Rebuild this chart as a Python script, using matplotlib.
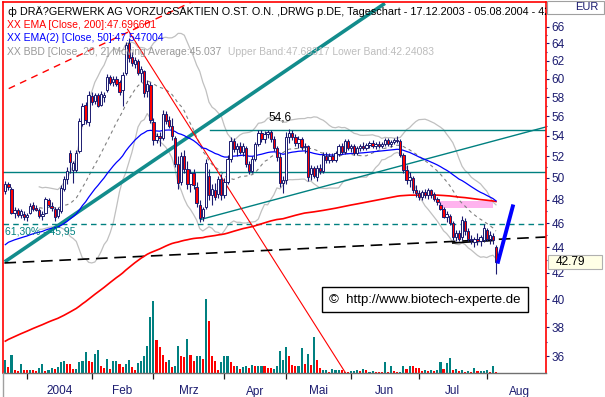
import numpy as np
import pandas as pd
import matplotlib
matplotlib.use("Agg")
import matplotlib.pyplot as plt
from matplotlib.patches import Rectangle
from matplotlib.lines import Line2D
from matplotlib.ticker import FixedLocator, NullFormatter, FixedFormatter

plt.rcParams['font.family'] = ['Liberation Sans', 'DejaVu Sans']

# --- daily candles 17.12.2003 - 05.08.2004 (trading day index 0..159)
opens = [48.8, 49.4, 49.0, 46.9, 47.1, 46.7, 46.8, 46.5, 46.9, 47.6, 47.3, 47.1, 46.6, 46.9, 48.0, 47.5, 47.2, 46.6, 47.0, 49.0,
         49.9, 52.3, 50.7, 50.7, 52.5, 55.2, 57.2, 55.4, 58.1, 57.6, 58.2, 57.2, 58.0, 58.7, 60.2, 59.6, 60.0, 59.6, 58.8, 60.6,
         64.0, 62.4, 61.6, 62.0, 60.6, 60.8, 58.6, 59.3, 55.4, 53.6, 54.0, 53.8, 56.2, 55.6, 55.0, 53.8, 51.3, 49.6, 52.0, 50.8,
         49.4, 50.4, 49.2, 47.6, 46.5, 47.4, 50.2, 48.4, 48.9, 48.5, 49.9, 48.4, 49.6, 51.8, 53.5, 52.7, 53.0, 52.4, 52.8, 51.3,
         50.6, 51.8, 53.2, 54.3, 53.7, 54.2, 54.4, 53.7, 52.8, 51.9, 49.5, 49.8, 53.9, 54.3, 53.9, 53.3, 53.7, 52.9, 53.0, 50.3,
         50.9, 50.1, 50.9, 50.6, 52.0, 51.7, 52.0, 51.7, 52.2, 53.0, 52.4, 53.5, 52.8, 53.0, 52.3, 52.8, 53.0, 52.8, 53.1, 53.3,
         53.0, 53.2, 53.0, 53.2, 53.6, 53.2, 53.4, 53.6, 53.5, 52.1, 50.7, 49.8, 50.0, 48.9, 48.6, 48.3, 48.7, 48.4, 48.9, 48.5,
         48.1, 47.6, 47.2, 46.5, 46.6, 46.0, 44.8, 45.2, 44.8, 46.2, 45.3, 44.7, 44.4, 44.7, 44.5, 44.6, 45.4, 44.7, 44.9, 44.0]
highs = [49.7, 49.6, 49.2, 47.4, 47.3, 47.2, 47.0, 46.9, 47.7, 47.8, 47.6, 47.3, 47.0, 48.3, 48.2, 47.8, 47.4, 47.4, 49.3, 50.2,
         51.0, 52.6, 51.6, 52.6, 55.8, 57.4, 57.5, 58.6, 58.5, 58.4, 58.4, 58.6, 58.5, 60.5, 60.4, 60.3, 60.3, 59.8, 60.7, 64.2,
         64.6, 63.0, 62.4, 62.2, 61.4, 61.0, 59.8, 59.6, 55.8, 54.3, 54.4, 56.6, 56.5, 56.0, 55.8, 54.0, 52.0, 52.4, 52.6, 51.6,
         50.8, 50.8, 49.6, 48.0, 47.4, 51.8, 50.8, 49.4, 49.5, 50.2, 50.3, 50.0, 52.1, 53.9, 53.8, 53.3, 53.4, 53.3, 53.0, 51.6,
         52.0, 53.4, 54.6, 54.6, 54.5, 54.6, 54.6, 54.0, 53.0, 52.3, 50.2, 54.4, 54.7, 54.6, 54.2, 54.0, 53.9, 53.3, 53.1, 51.2,
         51.1, 51.2, 51.3, 52.4, 52.4, 52.3, 52.3, 52.5, 53.2, 53.3, 53.7, 53.7, 53.2, 53.2, 53.0, 53.2, 53.4, 53.3, 53.5, 53.6,
         53.4, 53.5, 53.4, 53.8, 53.8, 53.6, 53.8, 54.0, 53.7, 52.3, 51.2, 50.5, 50.2, 49.3, 48.9, 48.9, 49.0, 49.1, 49.0, 48.7,
         48.3, 47.8, 47.4, 47.0, 46.8, 46.2, 45.4, 45.4, 46.6, 46.4, 45.6, 45.0, 44.8, 45.2, 45.0, 45.9, 45.6, 45.3, 45.2, 44.2]
lows = [48.5, 48.9, 46.8, 46.4, 46.5, 46.4, 46.3, 46.2, 46.8, 47.0, 47.0, 46.4, 46.3, 46.8, 47.4, 47.0, 46.2, 46.4, 46.9, 48.8,
        49.4, 50.4, 49.5, 50.5, 52.3, 55.0, 55.2, 55.0, 57.2, 57.3, 56.9, 57.0, 57.5, 58.5, 59.3, 59.2, 59.2, 58.2, 57.0, 60.4,
        61.8, 61.4, 61.2, 60.4, 59.6, 58.0, 58.0, 55.3, 53.1, 53.3, 53.0, 53.6, 55.2, 54.8, 53.6, 51.0, 49.0, 49.3, 50.4, 49.0,
        48.7, 49.0, 47.4, 46.1, 46.2, 47.2, 48.0, 47.6, 48.0, 48.2, 48.0, 48.2, 49.4, 51.5, 52.4, 52.0, 52.2, 52.0, 51.0, 50.3,
        50.4, 51.6, 53.0, 53.4, 53.3, 53.8, 53.4, 52.5, 51.6, 49.2, 48.6, 49.4, 53.3, 53.6, 53.0, 52.8, 52.6, 52.3, 49.7, 49.8,
        50.0, 49.7, 50.3, 50.4, 51.4, 51.4, 51.5, 51.5, 52.0, 52.2, 52.2, 52.6, 52.4, 52.1, 52.1, 52.5, 52.6, 52.6, 52.8, 52.8,
        52.7, 52.8, 52.8, 53.0, 53.0, 52.9, 53.2, 53.3, 51.9, 50.4, 49.4, 49.2, 48.6, 48.3, 48.0, 48.0, 48.2, 48.1, 48.2, 47.9,
        47.6, 47.1, 46.4, 46.1, 45.8, 44.6, 44.5, 44.5, 44.6, 45.0, 44.5, 44.3, 44.0, 44.2, 44.1, 44.4, 44.5, 44.3, 44.3, 41.9]
closes = [49.4, 49.2, 46.9, 47.1, 46.7, 47.0, 46.5, 46.7, 47.5, 47.2, 47.1, 46.6, 46.8, 48.1, 47.6, 47.3, 46.5, 47.2, 49.1, 49.9,
          50.6, 51.5, 51.4, 52.3, 55.5, 57.1, 55.6, 58.2, 57.5, 58.2, 57.1, 58.3, 58.2, 60.2, 59.5, 60.0, 59.4, 58.5, 60.4, 63.8,
          62.3, 61.7, 62.1, 60.6, 61.1, 58.4, 59.4, 55.6, 53.6, 54.0, 53.8, 56.2, 55.5, 55.0, 54.0, 51.3, 49.5, 52.0, 50.8, 49.4,
          50.4, 49.3, 47.7, 46.4, 47.2, 51.4, 48.4, 49.0, 48.3, 49.9, 48.4, 49.6, 51.8, 53.5, 52.7, 53.0, 52.4, 53.0, 51.3, 50.6,
          51.8, 53.2, 54.3, 53.7, 54.2, 54.4, 53.7, 52.8, 51.9, 49.5, 49.8, 53.9, 54.3, 53.9, 53.3, 53.7, 52.9, 53.0, 50.1, 50.9,
          50.2, 50.9, 50.6, 52.1, 51.7, 52.0, 51.7, 52.3, 53.0, 52.4, 53.5, 52.8, 53.0, 52.3, 52.8, 53.0, 52.8, 53.1, 53.3, 53.0,
          53.2, 53.0, 53.2, 53.6, 53.2, 53.4, 53.6, 53.5, 52.1, 50.7, 49.8, 50.1, 48.9, 48.6, 48.3, 48.7, 48.4, 48.9, 48.4, 48.1,
          47.8, 47.2, 46.5, 46.8, 46.0, 44.8, 45.2, 44.7, 46.3, 45.3, 44.7, 44.6, 44.7, 44.5, 44.8, 45.6, 44.7, 45.0, 44.6, 42.79]

# volume (pieces) and bar colour flag: 1 = teal, 0 = red
volumes = [13300, 5700, 18000, 3300, 1700, 9300, 3300, 3300, 3300, 2700, 1700, 5000, 9300, 1700, 2700, 5000, 4300, 5700, 10700, 12300,
           9300, 9300, 4300, 4300, 10700, 12300, 20700, 11700, 10700, 19300, 23300, 7300, 5000, 14300, 4300, 11700, 11700, 9300, 6000, 9300,
           13300, 6000, 2700, 10000, 11700, 16700, 27300, 55700, 71700, 32700, 25700, 18300, 10700, 12700, 5700, 7300, 27300, 17300, 15700, 34300,
           17700, 12300, 16700, 16700, 14300, 74300, 51700, 16700, 12300, 3300, 10700, 16700, 16700, 10700, 7300, 6700, 4300, 5700, 7300, 5000,
           8300, 6700, 7300, 7300, 6700, 5000, 5000, 4300, 7300, 21700, 12700, 25700, 16700, 8300, 6700, 6700, 25000, 8700, 18700, 7700,
           36000, 12700, 5300, 2700, 2700, 1000, 4300, 2700, 2700, 2700, 1300, 1000, 1700, 1700, 2700, 1700, 4300, 2700, 1000, 1700,
           1000, 700, 700, 11000, 1000, 6700, 2000, 700, 1000, 6700, 4300, 6700, 6700, 5000, 5000, 2000, 2700, 1700, 3300, 1700,
           2700, 11000, 3700, 10000, 15300, 2700, 4300, 1700, 3300, 1000, 1700, 700, 5300, 1700, 1700, 2000, 2700, 1000, 6700, 700]
vol_up = [1, 0, 1, 0, 0, 1, 0, 0, 1, 0, 0, 1, 1, 0, 1, 1, 0, 1, 1, 1,
          0, 0, 0, 1, 1, 1, 1, 0, 0, 1, 1, 0, 0, 1, 0, 1, 1, 0, 0, 1,
          1, 0, 0, 1, 1, 1, 1, 1, 1, 0, 0, 0, 0, 1, 0, 1, 1, 0, 0, 1,
          0, 0, 1, 1, 0, 1, 0, 0, 0, 0, 1, 1, 1, 0, 0, 1, 0, 1, 1, 0,
          1, 0, 1, 1, 0, 0, 0, 1, 1, 1, 1, 1, 0, 0, 0, 1, 1, 0, 1, 0,
          1, 0, 0, 1, 1, 0, 1, 1, 1, 0, 0, 0, 1, 1, 1, 0, 1, 0, 1, 1,
          0, 0, 0, 1, 0, 1, 0, 0, 1, 1, 0, 1, 0, 0, 0, 0, 1, 0, 1, 0,
          1, 1, 0, 1, 1, 0, 1, 0, 1, 0, 1, 0, 1, 0, 1, 1, 1, 0, 1, 0]

month_labels = ['2004', 'Feb', 'Mrz', 'Apr', 'Mai', 'Jun', 'Jul', 'Aug']
month_first_bar = [7, 28, 48, 71, 91, 112, 134, 156]
month_end = 177

ema200_seed = 36.9
ema50_seed = 44.0

# drawn tools: (bar index, price) end points
teal_trend = ([-0.2, 123.0], [42.84, 68.9])
teal_channel = ([63.2, 174.9], [46.3, 54.87])
red_trend = ([39.6, 110.1], [65.7, 34.97])
red_dashed = ([1.1, 61.6], [58.9, 69.3])
black_dashed = ([-0.3, 175.2], [42.75, 44.84])
black_solid = ([145.0, 158.0], [44.35, 44.55])
blue_proj = ([159.5, 164.6], [42.7, 47.6])
pink_box = (140.5, 158.0, 47.3, 47.9)
resist_level = 54.6
resist_start = 66.4
mid_level = 50.5
fib_level = 45.95

navy = '#1c1c70'
teal = '#008080'

idx = np.arange(len(closes))
o = np.array(opens)
h = np.array(highs)
l = np.array(lows)
c = np.array(closes)

# indicators
def ema(values, n, seed):
    a = 2.0 / (n + 1)
    out = []
    e = seed
    for v in values:
        e = e + a * (v - e)
        out.append(e)
    return np.array(out)

ema200 = ema(c, 200, ema200_seed)
ema50 = ema(c, 50, ema50_seed)
s = pd.Series(c)
bb_mid = s.rolling(20, min_periods=12).mean()
bb_sd = s.rolling(20, min_periods=12).std(ddof=0)
bb_up = bb_mid + 2 * bb_sd
bb_lo = bb_mid - 2 * bb_sd

W, H = 605, 397
fig = plt.figure(figsize=(W / 100, H / 100), dpi=100)
L, R, T, B = 3, 546, 2, 373
rect = [L / W, 1 - B / H, (R - L) / W, (B - T) / H]
xlim = (-0.75, 175.2)
ylim = (34.92, 69.07)

# volume pane
axv = fig.add_axes(rect)
axv.bar(idx, volumes, width=0.68, color=[teal if u else '#ff0000' for u in vol_up])
axv.set_xlim(*xlim)
axv.set_ylim(0, max(volumes) * 5.0)
axv.axis('off')

ax = fig.add_axes(rect)
ax.patch.set_alpha(0)
ax.set_yscale('log')
ax.set_xlim(*xlim)
ax.set_ylim(*ylim)

# bollinger
ax.plot(idx, bb_up, color='#c0c0c0', lw=0.9)
ax.plot(idx, bb_lo, color='#c0c0c0', lw=0.9)
ax.plot(idx, bb_mid, color='#808080', lw=0.8, dashes=(3, 3))

# drawn tools
ax.axhline(mid_level, color=teal, lw=1.0)
ax.axhline(fib_level, color=teal, lw=1.0, dashes=(4, 3))
ax.plot([resist_start, xlim[1]], [resist_level, resist_level], color=teal, lw=1.0)
ax.plot(*teal_channel, color=teal, lw=1.0)
ax.plot(*teal_trend, color='#128c8c', lw=2.6, solid_capstyle='butt')
ax.plot(*red_trend, color='#ff0000', lw=0.8)
ax.plot(*red_dashed, color='#ff0000', lw=1.0, dashes=(5, 4))
ax.plot(*black_dashed, color='black', lw=1.2, dashes=(7, 4))
ax.plot(*black_solid, color='black', lw=1.2)
ax.add_patch(Rectangle((pink_box[0], pink_box[2]), pink_box[1] - pink_box[0],
                       pink_box[3] - pink_box[2], color='#ffb3ee', lw=0))

# averages
ax.plot(idx, ema200, color='#ff0000', lw=1.2)
ax.plot(idx, ema50, color='#0000ff', lw=0.9)

# candles
ax.vlines(idx, l, h, color=navy, lw=0.8, zorder=4)
body_lo = np.minimum(o, c)
body_h = np.maximum(np.abs(c - o), 0.06)
ax.bar(idx, body_h, bottom=body_lo, width=0.75,
       color=['white' if cc >= oo else '#ff0000' for oo, cc in zip(o, c)],
       edgecolor=navy, lw=0.7, zorder=5)

ax.plot(*blue_proj, color='#0000ff', lw=2.8, solid_capstyle='butt', zorder=6)

# axes styling
for side in ['left', 'top', 'right']:
    ax.spines[side].set_color('#ff0000')
    ax.spines[side].set_linewidth(1.2)
ax.spines['bottom'].set_color('#707070')
ax.spines['bottom'].set_linewidth(1.0)

ax.yaxis.set_ticks_position('right')
yt = list(range(36, 67, 2))
ax.yaxis.set_major_locator(FixedLocator(yt))
ax.yaxis.set_major_formatter(FixedFormatter([str(v) for v in yt]))
ax.yaxis.set_minor_locator(FixedLocator(list(range(37, 66, 2))))
ax.yaxis.set_minor_formatter(NullFormatter())
ax.tick_params(axis='y', which='major', length=2.5, width=0.8, pad=1.5,
               colors=navy, labelsize=8.5)
ax.tick_params(axis='y', which='minor', length=1.0, width=0.8, colors=navy)

ax.xaxis.set_major_locator(FixedLocator(month_first_bar))
ax.xaxis.set_major_formatter(NullFormatter())
bounds = month_first_bar + [month_end]
centers = [(bounds[k] + bounds[k + 1]) / 2 for k in range(len(month_labels))]
ax.xaxis.set_minor_locator(FixedLocator(centers))
ax.xaxis.set_minor_formatter(FixedFormatter(month_labels))
ax.tick_params(axis='x', which='major', length=4, width=0.9, color='#202020')
ax.tick_params(axis='x', which='minor', length=0, pad=9, labelcolor=navy, labelsize=8.5)

# texts inside the chart
def axpos(x, y):
    return ((x - L) / (R - L), (B - y) / (B - T))

tkw = dict(transform=ax.transAxes, va='center', ha='left', fontsize=7.5, clip_on=True, zorder=8)
ax.text(*axpos(7, 11.7), 'ф', color='black', family='DejaVu Sans', **tkw)
ax.text(*axpos(20, 11.7), 'DRÄ?GERWERK AG VORZUGSAKTIEN O.ST. O.N. ,DRWG p.DE, Tageschart - '
        '17.12.2003 - 05.08.2004 - 42.79', color='black', fontsize=7.8,
        **{k: v for k, v in tkw.items() if k != 'fontsize'})
ax.text(*axpos(7, 25), 'XX EMA [Close, 200]:47.696601', color='#ff0000', **tkw)
ax.text(*axpos(7, 38.3), 'XX EMA(2) [Close, 50]:47.547004', color='#0000ff', **tkw)
ax.text(*axpos(7, 51.7), 'XX BBD [Close, 20, 2] Moving Average:45.037', color='#999999', **tkw)
ax.text(*axpos(228, 51.7), 'Upper Band:47.68317 Lower Band:42.24083', color='#bdbdbd', **tkw)
ax.text(*axpos(5, 231.5), '61,30% - 45,95', color=teal, **tkw)
ax.text(89, 55.9, '54,6', color='black', ha='center', va='center', fontsize=8.5, zorder=8)

# copyright box
ax.add_patch(Rectangle(axpos(322, 312), (528 - 322) / (R - L), (312 - 287) / (B - T),
                       transform=ax.transAxes, facecolor='white', edgecolor='black', lw=1.0, zorder=9))
ax.text(*axpos(425, 299.5), '©  http://www.biotech-experte.de', transform=ax.transAxes,
        ha='center', va='center', fontsize=9.5, color='black', zorder=10)

# outside elements in figure pixels
def fpos(x, y):
    return (x / W, 1 - y / H)

fig.patches.append(Rectangle(fpos(547, 14), 57 / W, 13 / H, transform=fig.transFigure,
                             facecolor='white', edgecolor='#a0a0a0', lw=0.8))
fig.text(*fpos(598, 7), 'EUR', ha='right', va='center', fontsize=8, color=navy)
fig.patches.append(Rectangle(fpos(548, 269), 54 / W, 14 / H, transform=fig.transFigure,
                             facecolor='#ffffe6', edgecolor='#b0b0b0', lw=0.8, zorder=5))
fig.text(*fpos(556, 262), '42.79', ha='left', va='center', fontsize=8.5, color='black', zorder=6)
fig.lines.append(Line2D([3 / W, 3 / W], [0, 1 - B / H], transform=fig.transFigure,
                        color='#a0a0a0', lw=1.0))

fig.savefig('out.png', dpi=100)
